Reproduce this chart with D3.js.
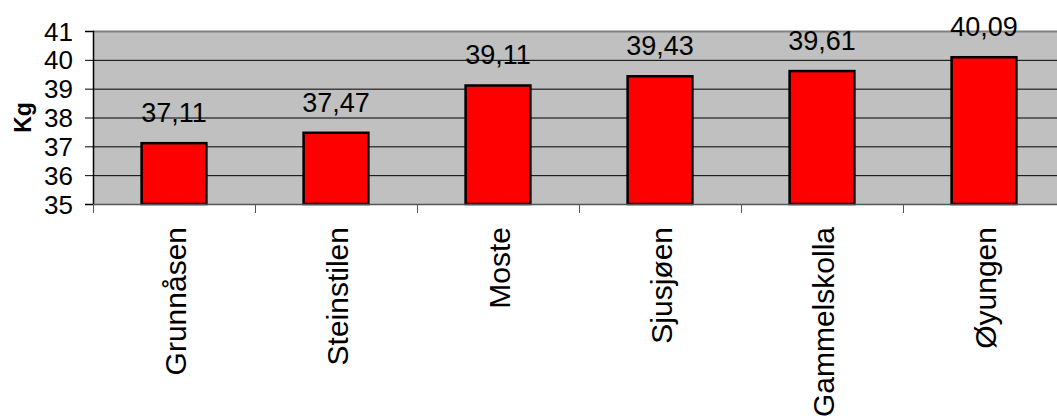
<!DOCTYPE html>
<html>
<head>
<meta charset="utf-8">
<script src="https://d3js.org/d3.v7.min.js"></script>
<style>
    body { margin: 0; background: #fff; }
    svg text { font-family: "Liberation Sans", Arial, sans-serif; fill: #000; }
</style>
</head>
<body>
<script>
    // data
    var places = ["Grunnåsen", "Steinstilen", "Moste", "Sjusjøen", "Gammelskolla", "Øyungen"];
    var weights = [37.11, 37.47, 39.11, 39.43, 39.61, 40.09];
    var yTicks = [35, 36, 37, 38, 39, 40, 41];

    var W = 1057, H = 416;
    var margin = {top: 31, right: -8, bottom: 212, left: 93};
    var width = W - margin.left - margin.right,
        height = H - margin.top - margin.bottom;

    var svg = d3.select("body").append("svg")
        .attr("width", W)
        .attr("height", H);

    var g = svg.append("g")
        .attr("transform", "translate(" + margin.left + "," + margin.top + ")");

    var x = d3.scaleBand().domain(places).range([0, width]).paddingInner(0).paddingOuter(0);
    var y = d3.scaleLinear().domain([35, 41]).range([height, 0]);

    // plot background
    g.append("rect")
        .attr("x", 0).attr("y", 0)
        .attr("width", width).attr("height", height)
        .attr("fill", "#c0c0c0");

    // gridlines
    g.selectAll(".grid")
        .data(yTicks.slice(1, -1))
        .enter().append("line")
        .attr("x1", 0).attr("x2", width)
        .attr("y1", function(d) { return y(d) + 0.5; })
        .attr("y2", function(d) { return y(d) + 0.5; })
        .attr("stroke", "#000")
        .attr("stroke-width", 1);

    // top border
    g.append("line")
        .attr("x1", 0).attr("x2", width)
        .attr("y1", 0.5).attr("y2", 0.5)
        .attr("stroke", "#808080").attr("stroke-width", 2);

    // bars
    var bw = x.bandwidth() * 0.4;
    g.selectAll(".bar")
        .data(weights)
        .enter().append("rect")
        .attr("x", function(d, i) { return x(places[i]) + (x.bandwidth() - bw) / 2; })
        .attr("y", function(d) { return y(d); })
        .attr("width", bw)
        .attr("height", function(d) { return y(35) - y(d); })
        .attr("fill", "#ff0000")
        .attr("stroke", "#000")
        .attr("stroke-width", 2.5);

    // value labels
    g.selectAll(".val")
        .data(weights)
        .enter().append("text")
        .attr("x", function(d, i) { return x(places[i]) + x.bandwidth() / 2; })
        .attr("y", function(d) { return y(d) - 21; })
        .attr("text-anchor", "middle")
        .style("font-size", "27px")
        .text(function(d) { return d.toFixed(2).replace(".", ","); });

    // y axis
    var yAxis = g.append("g")
        .call(d3.axisLeft(y).tickValues(yTicks).tickSize(8).tickPadding(12).tickFormat(d3.format("d")));
    yAxis.select(".domain").attr("stroke", "#000").attr("stroke-width", 1.5);
    yAxis.selectAll(".tick line").attr("stroke", "#000");
    yAxis.selectAll("text").style("font-size", "26px").attr("dy", "0.35em");

    // x axis: ticks on category boundaries
    var xAxis = g.append("g")
        .attr("transform", "translate(0," + height + ")");
    xAxis.append("line")
        .attr("x1", 0).attr("x2", width)
        .attr("y1", 0.5).attr("y2", 0.5)
        .attr("stroke", "#555").attr("stroke-width", 1.5);
    xAxis.selectAll(".xtick")
        .data(places)
        .enter().append("line")
        .attr("x1", function(d) { return x(d) + 0.5; })
        .attr("x2", function(d) { return x(d) + 0.5; })
        .attr("y1", 0).attr("y2", 9)
        .attr("stroke", "#555");
    xAxis.selectAll(".xlab")
        .data(places)
        .enter().append("text")
        .attr("transform", function(d) {
            return "translate(" + (x(d) + x.bandwidth() / 2) + ",23) rotate(-90)";
        })
        .attr("text-anchor", "end")
        .attr("dy", "0.4em")
        .style("font-size", "30px")
        .text(function(d) { return d; });

    // y label
    svg.append("text")
        .attr("transform", "translate(23," + (margin.top + height / 2) + ") rotate(-90)")
        .attr("text-anchor", "middle")
        .attr("dy", "0.35em")
        .style("font-size", "23px")
        .style("font-weight", "bold")
        .text("Kg");
</script>
</body>
</html>
